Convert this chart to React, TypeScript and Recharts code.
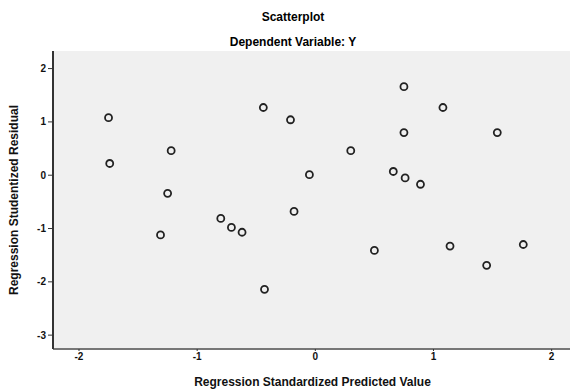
import { ScatterChart, Scatter, XAxis, YAxis, CartesianGrid } from "recharts";

const predicted = [
  -1.75, -1.74, -1.22, -1.25, -1.31, -0.80, -0.71, -0.62, -0.44, -0.21, -0.43, -0.18, -0.05,
  0.30, 0.50, 0.75, 0.75, 0.66, 0.76, 0.89, 1.08, 1.14, 1.54, 1.45, 1.76,
];
const residual = [
  1.08, 0.22, 0.46, -0.34, -1.12, -0.81, -0.98, -1.07, 1.27, 1.04, -2.14, -0.68, 0.01,
  0.46, -1.41, 1.66, 0.80, 0.07, -0.05, -0.17, 1.27, -1.33, 0.80, -1.69, -1.30,
];
const xTicks = [-2, -1, 0, 1, 2];
const yTicks = [2, 1, 0, -1, -2, -3];

const points = predicted.map((x, i) => ({ x, y: residual[i] }));

const font = "'Liberation Sans', Arial, sans-serif";

function Dot(props: any) {
  const { cx, cy } = props;
  return <circle cx={cx} cy={cy} r={3.5} fill="none" stroke="#222" strokeWidth={1.8} />;
}

export default function App() {
  return (
    <div style={{ position: "absolute", left: 0, top: 0, width: 570, height: 389, overflow: "hidden", background: "#fff", fontFamily: font }}>
      <div style={{ position: "absolute", top: 10, left: 193, width: 200, textAlign: "center", fontSize: 12, fontWeight: "bold" }}>Scatterplot</div>
      <div style={{ position: "absolute", top: 35, left: 193, width: 200, textAlign: "center", fontSize: 12, fontWeight: "bold" }}>Dependent Variable: Y</div>
      <ScatterChart width={580} height={389} margin={{ top: 51, right: 0, bottom: 0, left: 0 }}>
        <CartesianGrid horizontal={false} vertical={false} fill="#f0f0f0" />
        <XAxis xAxisId="top" orientation="top" type="number" dataKey="x" domain={[-2.22, 2.24]} height={0} tick={false} tickLine={false} axisLine={{ stroke: "#333", strokeWidth: 2 }} />
        <XAxis
          type="number"
          dataKey="x"
          domain={[-2.22, 2.24]}
          ticks={xTicks}
          height={40}
          tickSize={2}
          tickLine={{ stroke: "#333" }}
          axisLine={{ stroke: "#777", strokeWidth: 2 }}
          tick={{ fontSize: 10, fill: "#111", fontWeight: "bold", fontFamily: font }}
          label={{ value: "Regression Standardized Predicted Value", position: "insideBottom", offset: 3, fontSize: 12, fill: "#111", fontWeight: "bold", fontFamily: font, dx: -4 }}
        />
        <YAxis
          type="number"
          dataKey="y"
          domain={[-3.26, 2.33]}
          ticks={yTicks}
          width={53}
          tickSize={5}
          tickLine={{ stroke: "#333" }}
          axisLine={{ stroke: "#333", strokeWidth: 2 }}
          tick={{ fontSize: 10, fill: "#111", fontWeight: "bold", fontFamily: font }}
          label={{ value: "Regression Studentized Residual", angle: -90, position: "insideLeft", offset: 14, fontSize: 12, fill: "#111", fontWeight: "bold", fontFamily: font, style: { textAnchor: "middle" } }}
        />
        <Scatter xAxisId={0} data={points} shape={<Dot />} isAnimationActive={false} />
      </ScatterChart>
    </div>
  );
}
